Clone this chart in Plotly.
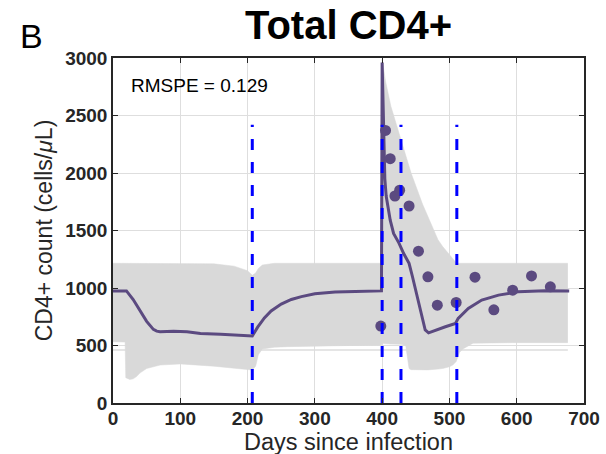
import plotly.graph_objects as go

# Envelope of the simulated trajectories (upper / lower bounds)
band_days = [0, 18, 19, 25, 30, 35, 40, 50, 70, 100, 150, 180, 200, 207, 212, 216, 222,
             240, 260, 300, 399, 400, 401, 405, 413, 428, 435, 440, 443, 460, 468, 483,
             490, 500, 505, 510, 512, 515, 520, 535, 600, 676]
band_upper = [1215, 1215, 1215, 1215, 1215, 1215, 1215, 1215, 1215, 1215, 1210, 1190, 1150, 1110, 1130, 1170, 1200,
              1215, 1215, 1215, 1215, 2990, 2950, 2800, 2580, 2290, 2140, 2060, 2000, 1730, 1620, 1420,
              1360, 1290, 1250, 1220, 1215, 1215, 1215, 1215, 1215, 1215]
band_lower = [533, 530, 220, 205, 210, 230, 260, 300, 330, 340, 320, 305, 295, 287, 320, 420, 470,
              485, 490, 495, 505, 520, 520, 515, 512, 510, 500, 300, 290, 285, 288, 295,
              300, 315, 330, 360, 400, 440, 470, 520, 525, 525]

# A single outlying trajectory below the envelope
outlier_days = [0, 676]
outlier_vals = [460, 460]

# Median model fit
fit_days = [0, 20, 30, 40, 50, 60, 65, 70, 90, 110, 130, 160, 190, 207, 215, 225, 235, 250,
            265, 280, 300, 330, 360, 399, 400, 401, 402, 403, 404, 406, 409, 412, 417, 425,
            432, 440, 445, 452, 459, 464, 469, 479, 494, 509, 513, 528, 548, 573, 602, 642, 678]
fit_vals = [975, 975, 900, 800, 710, 640, 625, 620, 625, 620, 605, 598, 590, 583, 660, 740, 800, 860,
            900, 925, 950, 965, 970, 975, 2960, 2700, 2450, 2200, 1950, 1800, 1680, 1590, 1475, 1390,
            1300, 1215, 1100, 925, 750, 635, 610, 634, 663, 692, 736, 823, 895, 938, 967, 976, 973]

# Observed CD4+ counts
obs_days = [398, 405, 412, 419, 426, 440, 454, 468, 482, 510, 538, 566, 594, 622, 650]
obs_vals = [669, 2370, 2125, 1800, 1850, 1713, 1320, 1097, 851, 874, 1094, 810, 981, 1105, 1010]

# Treatment event times
event_days = [207, 400, 428, 511]
event_top = 2420

x_ticks = [0, 100, 200, 300, 400, 500, 600, 700]
y_ticks = [0, 500, 1000, 1500, 2000, 2500, 3000]

purple = "#5b4a80"
band_gray = "#d9d9d9"
axis_col = "#262626"
font_family = "Liberation Sans, Arial, Helvetica, sans-serif"

# plot-area geometry in pixels, used to place free-standing labels
fig_w, fig_h = 606, 454
m_l, m_r, m_t, m_b = 113, 22, 58, 51
plot_w = fig_w - m_l - m_r
plot_h = fig_h - m_t - m_b


def paper_y(px):
    return (fig_h - m_b - px) / plot_h


def paper_x(px):
    return (px - m_l) / plot_w


fig = go.Figure()

fig.add_trace(go.Scatter(x=outlier_days, y=outlier_vals, mode="lines",
                         line=dict(color="#dcdcdc", width=1.5), hoverinfo="skip"))
fig.add_trace(go.Scatter(x=band_days, y=band_lower, mode="lines",
                         line=dict(color=band_gray, width=0.5), hoverinfo="skip"))
fig.add_trace(go.Scatter(x=band_days, y=band_upper, mode="lines", fill="tonexty",
                         fillcolor=band_gray, line=dict(color=band_gray, width=0.5),
                         hoverinfo="skip"))
fig.add_trace(go.Scatter(x=fit_days, y=fit_vals, mode="lines",
                         line=dict(color=purple, width=3)))
fig.add_trace(go.Scatter(x=obs_days, y=obs_vals, mode="markers",
                         marker=dict(color=purple, size=11, line=dict(width=0))))
for d in event_days:
    fig.add_trace(go.Scatter(x=[d, d], y=[0, event_top], mode="lines",
                             line=dict(color="#0000ff", width=3, dash="11px,12px"),
                             hoverinfo="skip"))

axis_common = dict(
    showgrid=True, gridcolor="#dedede", gridwidth=1,
    showline=True, linecolor=axis_col, linewidth=1.5, mirror="ticks",
    ticks="inside", ticklen=5, tickwidth=1.2, tickcolor=axis_col,
    tickfont=dict(family=font_family, size=19, color=axis_col, weight="bold"),
    zeroline=False, automargin=False,
)

fig.update_layout(
    width=fig_w, height=fig_h,
    margin=dict(l=m_l, r=m_r, t=m_t, b=m_b),
    paper_bgcolor="white", plot_bgcolor="white",
    showlegend=False,
    font=dict(family=font_family, color=axis_col),
    title=dict(text="<b>Total CD4+</b>", x=0.5, xref="paper", xanchor="center",
               y=1 - 25 / fig_h, yref="container", yanchor="middle",
               font=dict(size=40, color="black", family=font_family)),
    xaxis=dict(range=[0, 700], tickvals=x_ticks, ticklabelstandoff=-3,
               **axis_common),
    yaxis=dict(range=[0, 3000], tickvals=y_ticks,
               title=dict(text="CD4+ count (cells/<i>μ</i>L)", font=dict(size=23, color=axis_col),
                          standoff=6),
               **axis_common),
    annotations=[
        dict(text="B", x=paper_x(31.7), y=paper_y(36),
             xref="paper", yref="paper",
             xanchor="center", yanchor="middle", showarrow=False,
             font=dict(size=34, color="black", family=font_family)),
        dict(text="Days since infection", x=0.5, y=paper_y(442),
             xref="paper", yref="paper",
             xanchor="center", yanchor="middle", showarrow=False,
             font=dict(size=23.5, color=axis_col, family=font_family)),
        dict(text="RMSPE = 0.129", x=24, y=2757, xref="x", yref="y",
             xanchor="left", yanchor="middle", showarrow=False,
             font=dict(size=19, color="black", family=font_family)),
    ],
)

fig.write_html("out.html")
